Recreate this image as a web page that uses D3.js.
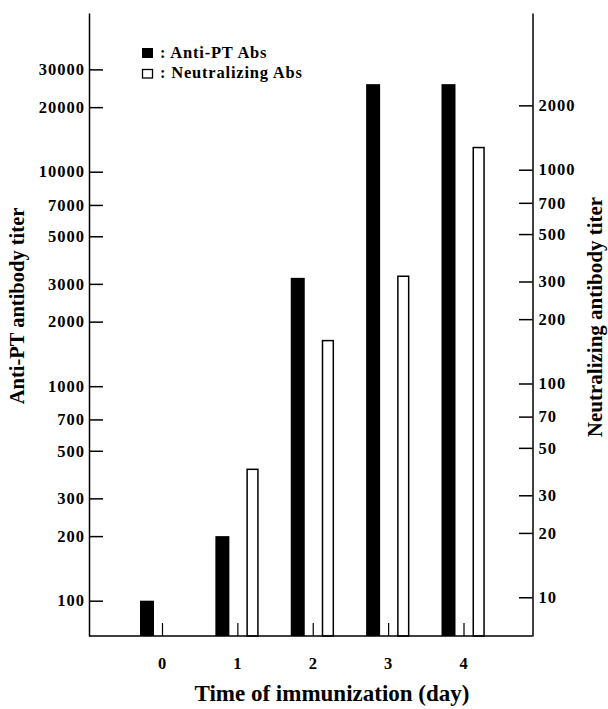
<!DOCTYPE html>
<html>
<head>
<meta charset="utf-8">
<script src="https://cdn.jsdelivr.net/npm/d3@7"></script>
<style>
  html, body { margin: 0; padding: 0; background: #fff; }
  svg { display: block; }
  text { font-family: "Liberation Serif", "Times New Roman", serif; font-weight: bold; fill: #000; }
</style>
</head>
<body>
<div id="chart"></div>
<script>
// ---- data ----
const days = ["0", "1", "2", "3", "4"];
const antiPT = [100, 200, 3200, 25600, 25600];          // left axis
const neutralizing = [null, 40, 160, 320, 1280];        // right axis (<10 on day 0: no bar)
const leftTicks = [100, 200, 300, 500, 700, 1000, 2000, 3000, 5000, 7000, 10000, 20000, 30000];
const rightTicks = [10, 20, 30, 50, 70, 100, 200, 300, 500, 700, 1000, 2000];
const legendLabels = [": Anti-PT Abs", ": Neutralizing Abs"];
const xTitle = "Time of immunization (day)";
const yLeftTitle = "Anti-PT antibody titer";
const yRightTitle = "Neutralizing antibody titer";

// ---- layout ----
const W = 608, H = 709;
const xLeft = 89, xRight = 532.5, yTop = 13, yBottom = 636;

const svg = d3.select("#chart").append("svg").attr("width", W).attr("height", H);

const yL = d3.scaleLog().domain([68.45, 54950]).range([yBottom, yTop]);
const yR = d3.scaleLog().domain([6.59, 5408]).range([yBottom, yTop]);
const x = d3.scalePoint().domain(days).range([162, 463.5]);

// bars
const barW = 14;
svg.append("g").selectAll("rect").data(days.map((d, i) => ({d, v: antiPT[i]})))
  .join("rect")
  .attr("x", d => x(d.d) - 22)
  .attr("width", barW)
  .attr("y", d => yL(d.v))
  .attr("height", d => yBottom - yL(d.v))
  .attr("fill", "#000");

svg.append("g").selectAll("rect").data(days.map((d, i) => ({d, v: neutralizing[i]})).filter(d => d.v != null))
  .join("rect")
  .attr("x", d => x(d.d) + 9.75)
  .attr("width", 10.8)
  .attr("y", d => yR(d.v) + 0.75)
  .attr("height", d => yBottom - yR(d.v) - 0.75)
  .attr("fill", "#fff")
  .attr("stroke", "#000")
  .attr("stroke-width", 1.5);

// left axis
const gL = svg.append("g").attr("transform", `translate(${xLeft},0)`)
  .call(d3.axisLeft(yL).tickValues(leftTicks).tickFormat(d3.format("d"))
        .tickSizeInner(-14).tickSizeOuter(0).tickPadding(4));
// right axis
const gR = svg.append("g").attr("transform", `translate(${xRight},0)`)
  .call(d3.axisRight(yR).tickValues(rightTicks).tickFormat(d3.format("d"))
        .tickSizeInner(-13.5).tickSizeOuter(0).tickPadding(6));
// bottom axis
const gB = svg.append("g").attr("transform", `translate(0,${yBottom})`)
  .call(d3.axisBottom(x).tickSizeInner(-13).tickSizeOuter(0).tickPadding(4));
gB.select(".domain").remove();
gB.selectAll(".tick text").attr("y", 33).attr("dy", 0);

svg.append("line").attr("x1", xLeft).attr("x2", xRight).attr("y1", yBottom).attr("y2", yBottom)
  .attr("stroke", "#000").attr("stroke-width", 1.5);

[gL, gR, gB].forEach(g => {
  g.selectAll(".domain").attr("stroke", "#000").attr("stroke-width", 1.5);
  g.selectAll(".tick line").attr("stroke", "#000").attr("stroke-width", 1.5);
  g.selectAll(".tick text")
    .style("font-family", '"Liberation Serif", "Times New Roman", serif')
    .style("font-weight", "bold")
    .style("font-size", "16.5px")
    .style("letter-spacing", "1px")
    .attr("fill", "#000");
});
gB.selectAll(".tick line").attr("stroke-width", 1.2);

// legend
svg.append("rect").attr("x", 142).attr("y", 48).attr("width", 11).attr("height", 10).attr("fill", "#000");
svg.append("rect").attr("x", 142.5).attr("y", 69.5).attr("width", 10).attr("height", 8.5)
  .attr("fill", "#fff").attr("stroke", "#000").attr("stroke-width", 1.3);
svg.selectAll(".leg").data(legendLabels).join("text")
  .attr("class", "leg")
  .attr("x", 160)
  .attr("y", (d, i) => 58 + i * 20)
  .style("font-size", "16.5px")
  .style("letter-spacing", "0.8px")
  .text(d => d);

// titles
svg.append("text").attr("x", 332).attr("y", 701).attr("text-anchor", "middle")
  .style("font-size", "23px").text(xTitle);
svg.append("text").attr("transform", "translate(24,306) rotate(-90)").attr("text-anchor", "middle")
  .style("font-size", "20.5px").text(yLeftTitle);
svg.append("text").attr("transform", "translate(602,317) rotate(-90)").attr("text-anchor", "middle")
  .style("font-size", "21px").text(yRightTitle);
</script>
</body>
</html>
